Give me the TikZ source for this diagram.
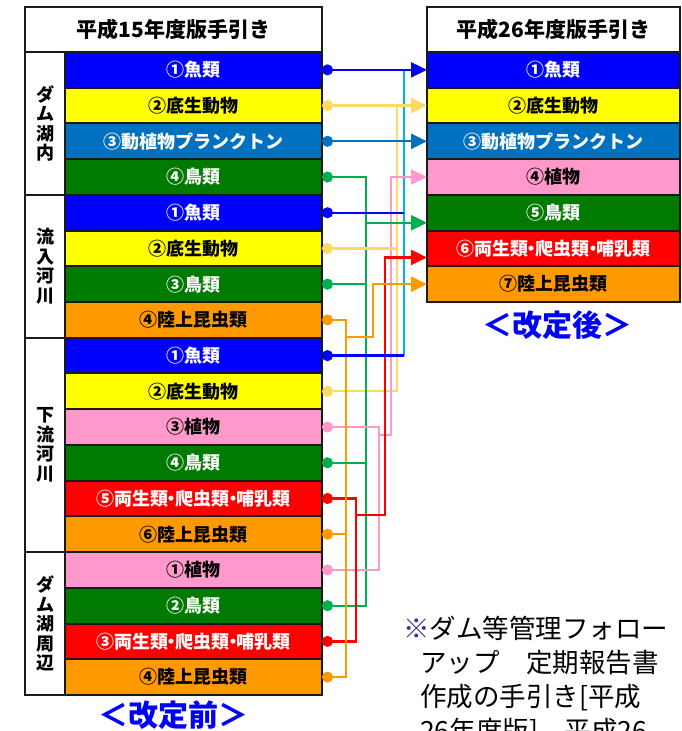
\documentclass[tikz,border=0pt]{standalone}
\usepackage{fontspec}
\setmainfont{Noto Sans CJK JP}
\usepackage{tikz}
\usetikzlibrary{arrows.meta,positioning,calc}
\definecolor{FishBlue}{HTML}{0000FF}
\definecolor{BenthosYellow}{HTML}{FFFF00}
\definecolor{PlanktonBlue}{HTML}{0070C0}
\definecolor{BirdGreen}{HTML}{007A00}
\definecolor{PlantPink}{HTML}{FF99CC}
\definecolor{AmphRed}{HTML}{FF0000}
\definecolor{InsectOrange}{HTML}{FF9900}
\definecolor{BenthosLine}{HTML}{FFD966}
\definecolor{BirdLine}{HTML}{00B050}
\definecolor{MergeLine}{HTML}{00B0F0}
\definecolor{NoteMark}{HTML}{333399}
\definecolor{TableRule}{HTML}{1A1A1A}
\newcommand{\nkdot}{\hspace{-0.3em}・\hspace{-0.3em}}

\begin{document}
\begin{tikzpicture}[x=1pt, y=-1pt,
  cell/.style={draw=TableRule, line width=2pt, outer sep=0pt, inner sep=0pt, align=center},
  titlecell/.style={cell, fill=white, minimum height=45pt, font=\fontsize{21}{21}\selectfont\bfseries},
  areacell/.style={cell, fill=white, minimum width=40pt, font=\fontsize{18}{19.5}\selectfont\bfseries},
  oldrow/.style={cell, minimum width=257pt, minimum height=35.72pt, font=\fontsize{18}{18}\selectfont\bfseries},
  newrow/.style={oldrow, minimum width=253pt},
  fishrow/.style={fill=FishBlue, text=white},
  benthosrow/.style={fill=BenthosYellow, text=black},
  planktonrow/.style={fill=PlanktonBlue, text=white},
  birdrow/.style={fill=BirdGreen, text=white},
  plantrow/.style={fill=PlantPink, text=black},
  amphrow/.style={fill=AmphRed, text=white},
  insectrow/.style={fill=InsectOrange, text=black},
  conn/.style={line width=2.3pt},
  fromdot/.style={{Circle[length=11pt]}-},
  todot/.style={-{Circle[length=11pt]}},
  bothdots/.style={{Circle[length=11pt]}-{Circle[length=11pt]}},
  toarrow/.style={-{Triangle[length=16pt,width=15pt]}},
  dotarrow/.style={{Circle[length=11pt]}-{Triangle[length=16pt,width=15pt]}},
  tagtext/.style={text=FishBlue, font=\fontsize{30}{30}\selectfont\bfseries},
  notetext/.style={align=left, inner sep=0pt, font=\fontsize{26.5}{34}\selectfont}]
  \useasboundingbox (0,0) rectangle (681,731);
  \clip (0,0) rectangle (681,731);

  % 改定前の表
  \node[titlecell, minimum width=297pt] (oldhead) at (173.5,29.5) {平成15年度版手引き};
  \node[areacell, minimum height=142.88pt, below right=0pt of oldhead.south west] (lake) {ダ\\ム\\湖\\内};
  \node[areacell, minimum height=142.88pt, below=0pt of lake] (inflow) {流\\入\\河\\川};
  \node[areacell, minimum height=214.32pt, below=0pt of inflow] (down) {下\\流\\河\\川};
  \node[areacell, minimum height=142.88pt, below=0pt of down] (rim) {ダ\\ム\\湖\\周\\辺};

  \node[oldrow, fishrow, below right=0pt of lake.north east] (a1) {①魚類};
  \node[oldrow, benthosrow, below=0pt of a1] (a2) {②底生動物};
  \node[oldrow, planktonrow, below=0pt of a2] (a3) {③動植物プランクトン};
  \node[oldrow, birdrow, below=0pt of a3] (a4) {④鳥類};
  \node[oldrow, fishrow, below=0pt of a4] (a5) {①魚類};
  \node[oldrow, benthosrow, below=0pt of a5] (a6) {②底生動物};
  \node[oldrow, birdrow, below=0pt of a6] (a7) {③鳥類};
  \node[oldrow, insectrow, below=0pt of a7] (a8) {④陸上昆虫類};
  \node[oldrow, fishrow, below=0pt of a8] (a9) {①魚類};
  \node[oldrow, benthosrow, below=0pt of a9] (a10) {②底生動物};
  \node[oldrow, plantrow, below=0pt of a10] (a11) {③植物};
  \node[oldrow, birdrow, below=0pt of a11] (a12) {④鳥類};
  \node[oldrow, amphrow, below=0pt of a12] (a13) {⑤両生類\nkdot 爬虫類\nkdot 哺乳類};
  \node[oldrow, insectrow, below=0pt of a13] (a14) {⑥陸上昆虫類};
  \node[oldrow, plantrow, below=0pt of a14] (a15) {①植物};
  \node[oldrow, birdrow, below=0pt of a15] (a16) {②鳥類};
  \node[oldrow, amphrow, below=0pt of a16] (a17) {③両生類\nkdot 爬虫類\nkdot 哺乳類};
  \node[oldrow, insectrow, below=0pt of a17] (a18) {④陸上昆虫類};

  % 改定後の表
  \node[titlecell, minimum width=253pt] (newhead) at (553.5,29.5) {平成26年度版手引き};
  \node[newrow, fishrow, below=0pt of newhead] (b1) {①魚類};
  \node[newrow, benthosrow, below=0pt of b1] (b2) {②底生動物};
  \node[newrow, planktonrow, below=0pt of b2] (b3) {③動植物プランクトン};
  \node[newrow, plantrow, below=0pt of b3] (b4) {④植物};
  \node[newrow, birdrow, below=0pt of b4] (b5) {⑤鳥類};
  \node[newrow, amphrow, below=0pt of b5] (b6) {⑥両生類\nkdot 爬虫類\nkdot 哺乳類};
  \node[newrow, insectrow, below=0pt of b6] (b7) {⑦陸上昆虫類};

  \node[tagtext] (before) at ($(oldhead.south |- a18.south)+(0,20)$) {＜改定前＞};
  \node[tagtext] (after) at ($(newhead.south |- b7.south)+(4,23)$) {＜改定後＞};

  % bus lines
  \coordinate (insectbus) at (346,337);
  \coordinate (insectup) at (373,0);
  \coordinate (amphbus) at (356,515);
  \coordinate (amphup) at (385,0);
  \coordinate (birdbus) at (366,0);
  \coordinate (plantbus) at (379,435);
  \coordinate (plantup) at (391,0);
  \coordinate (benthosbus) at (397,0);
  \coordinate (fishbus) at (404,0);
  \coordinate (b5in) at ($(b5.west)+(0,10)$);
  \coordinate (b6in) at ($(b6.west)+(0,9)$);

  \draw[conn, MergeLine] (fishbus |- b1.west) -- (fishbus |- a9.east);
  \draw[conn, BenthosLine, todot] (b2.west -| benthosbus) -- (benthosbus |- a10.east) -- (a10.east);
  \draw[conn, BirdLine, bothdots] (a4.east) -- (a4.east -| birdbus) -- (a16.east -| birdbus) -- (a16.east);
  \draw[conn, PlantPink, bothdots] (a11.east) -- (a11.east -| plantbus) -- (a15.east -| plantbus) -- (a15.east);
  \draw[conn, AmphRed, bothdots] (a13.east) -- (a13.east -| amphbus) -- (a17.east -| amphbus) -- (a17.east);
  \draw[conn, InsectOrange, bothdots] (a8.east) -- (a8.east -| insectbus) -- (a18.east -| insectbus) -- (a18.east);

  \draw[conn, PlantPink, toarrow] (plantbus) -| (plantup |- b4.west) -- (b4.west);
  \draw[conn, AmphRed, toarrow] (amphbus) -| (amphup |- b6in) -- (b6in);
  \draw[conn, InsectOrange, toarrow] (insectbus) -| (insectup |- b7.west) -- (b7.west);
  \draw[conn, BirdLine, toarrow] (birdbus |- b5in) -- (b5in);

  \draw[conn, BirdLine, fromdot] (a7.east) -- (a7.east -| birdbus);
  \draw[conn, BirdLine, fromdot] (a12.east) -- (a12.east -| birdbus);
  \draw[conn, InsectOrange, fromdot] (a14.east) -- (a14.east -| insectbus);
  \draw[conn, BenthosLine, fromdot] (a6.east) -- (a6.east -| benthosbus);
  \draw[conn, FishBlue, fromdot] (a5.east) -- (a5.east -| fishbus);
  \draw[conn, FishBlue, fromdot] (a9.east) -- (a9.east -| fishbus);

  \draw[conn, FishBlue, dotarrow] (a1) -- (b1);
  \draw[conn, BenthosLine, dotarrow] (a2) -- (b2);
  \draw[conn, PlanktonBlue, dotarrow] (a3) -- (b3);

  % 注記
  \node[notetext, anchor=north west] (note) at (403,616)
    {\textcolor{NoteMark}{※}ダム等管理フォロー\\
     \hspace*{17pt}アップ　定期報告書\\
     \hspace*{17pt}作成の手引き[平成\\
     \hspace*{17pt}26年度版]、平成26};
\end{tikzpicture}
\end{document}
